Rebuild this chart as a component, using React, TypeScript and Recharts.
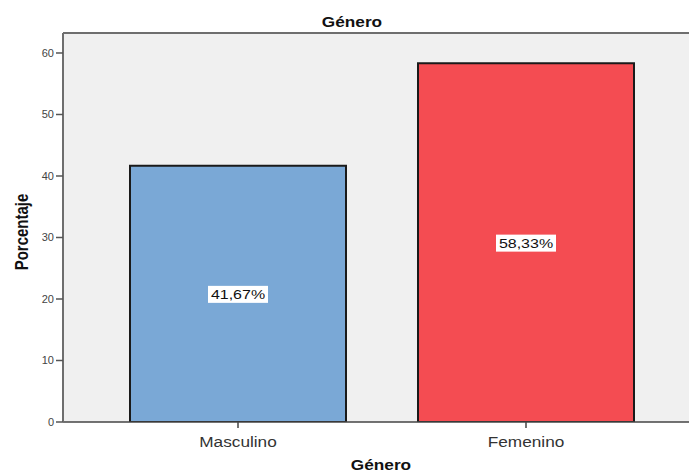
import { BarChart, Bar, XAxis, YAxis, CartesianGrid, Cell, LabelList, ReferenceLine } from 'recharts';

// datos del gráfico
const categorias = ['Masculino', 'Femenino'];
const porcentajes = [41.67, 58.33];
const etiquetas = ['41,67%', '58,33%'];
const colores = ['#7aa8d6', '#f44c52'];
const ticksY = [0, 10, 20, 30, 40, 50, 60];
const yMax = 63.25;

const data = categorias.map((c, i) => ({ genero: c, pct: porcentajes[i], etiqueta: etiquetas[i] }));

const FONT = '"Liberation Sans", Arial, sans-serif';
// el original está estirado en horizontal
const ESTIRA = 1.23;

// caja blanca con el porcentaje en el centro de la barra
const EtiquetaBarra = (props: any) => {
    const { x, y, width, height, index } = props;
    const cx = x + width / 2;
    const cy = y + height / 2;
    return (
        <g>
            <rect x={cx - 30} y={cy - 8} width={60} height={17} fill="#ffffff" />
            <text
                x={0}
                y={0}
                transform={`translate(${cx},${cy + 5}) scale(${ESTIRA},1)`}
                textAnchor="middle"
                fontSize={13}
                fontFamily={FONT}
                fill="#111"
            >
                {etiquetas[index]}
            </text>
        </g>
    );
};

const TickCategoria = (props: any) => {
    const { x, y, payload } = props;
    return (
        <text
            x={0}
            y={0}
            transform={`translate(${x},${y + 10}) scale(${ESTIRA},1)`}
            textAnchor="middle"
            fontSize={14}
            fontFamily={FONT}
            fill="#333"
        >
            {payload.value}
        </text>
    );
};

const tituloStyle: any = {
    position: 'absolute',
    width: 200,
    textAlign: 'center',
    fontWeight: 'bold',
    fontSize: 14,
    color: '#111',
    transform: `scaleX(${ESTIRA})`,
};

export default function App() {
    return (
        <div style={{ position: 'absolute', left: 0, top: 0, width: 689, height: 474, overflow: 'hidden', background: '#fff', fontFamily: FONT }}>
            <div style={{ ...tituloStyle, left: 252, top: 14 }}>Género</div>
            <div style={{ ...tituloStyle, left: 281, top: 457 }}>Género</div>
            <div style={{ position: 'absolute', left: 21, top: 232, width: 0, height: 0 }}>
                <div style={{ position: 'absolute', transform: `translate(-50%, -50%) rotate(-90deg) scaleY(${ESTIRA})`, fontWeight: 'bold', fontSize: 15, color: '#111', whiteSpace: 'nowrap' }}>
                    Porcentaje
                </div>
            </div>
            <BarChart width={710} height={474} data={data} margin={{ top: 33, right: 11, left: 0, bottom: 0 }}>
                <CartesianGrid fill="#f0f0f0" horizontal={false} vertical={false} />
                <XAxis
                    dataKey="genero"
                    height={52}
                    padding={{ left: 31, right: 29 }}
                    axisLine={{ stroke: '#444', strokeWidth: 1.5 }}
                    tickLine={{ stroke: '#444', strokeWidth: 1.5 }}
                    tickSize={6}
                    tickMargin={9}
                    tick={<TickCategoria />}
                />
                <YAxis
                    width={63}
                    domain={[0, yMax]}
                    ticks={ticksY}
                    allowDataOverflow
                    axisLine={{ stroke: '#6e6e6e', strokeWidth: 2 }}
                    tickLine={{ stroke: '#555', strokeWidth: 1.5 }}
                    tickSize={7}
                    tickMargin={2}
                    tick={{ fontSize: 11, fill: '#444', fontFamily: FONT }}
                />
                <ReferenceLine y={yMax} stroke="#6e6e6e" strokeWidth={2} />
                <Bar dataKey="pct" barSize={216} stroke="#1a1a1a" strokeWidth={2} isAnimationActive={false}>
                    {data.map((d, i) => (
                        <Cell key={d.genero} fill={colores[i]} />
                    ))}
                    <LabelList dataKey="pct" content={<EtiquetaBarra />} />
                </Bar>
            </BarChart>
        </div>
    );
}
